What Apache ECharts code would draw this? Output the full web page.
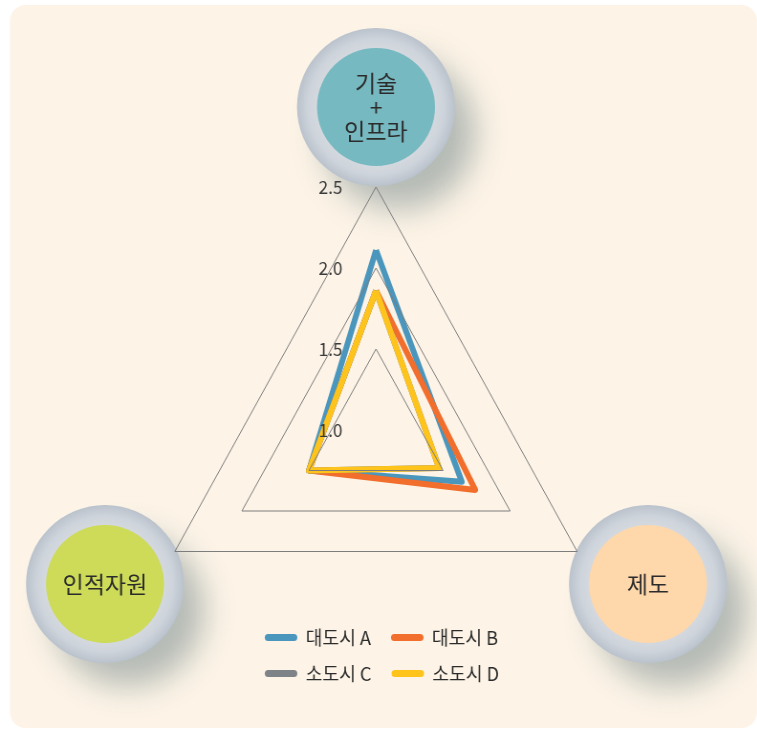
<!DOCTYPE html>
<html>
<head>
<meta charset="utf-8">
<script src="https://cdn.jsdelivr.net/npm/echarts@6/dist/echarts.min.js"></script>
<style>
html, body { margin: 0; padding: 0; background: #fff; overflow: hidden; }
/* the original figure is squeezed a little horizontally */
#chart { width: 792px; height: 729px; transform: scaleX(0.956); transform-origin: 0 0; }
</style>
</head>
<body>
<div id="chart"></div>
<script>
// 축 (위 -> 왼쪽 -> 오른쪽)
var indicatorNames = ['기술+인프라', '인적자원', '제도'];
var badgeTexts = ['기술\n+\n인프라', '인적자원', '제도'];
var seriesNames = ['대도시 A', '대도시 B', '소도시 C', '소도시 D'];
var valuesA = [2.11, 1.5, 1.64];
var valuesB = [1.86, 1.5, 1.74];
var valuesC = [1.86, 1.5, 1.47];
var valuesD = [1.86, 1.5, 1.47];
var axisMin = 1.0;
var axisMax = 2.5;
var axisInterval = 0.5;

var lineColors = ['#4a96bd', '#f26e2c', '#7e8387', '#fec41c'];
var badgeColors = ['#77b9c1', '#cddb59', '#fed7ab'];
var FONT = '"Noto Sans CJK KR", "Noto Sans", sans-serif';
var SX = 0.956;

var ringFill = {
    type: 'radial', x: 0.5, y: 0.5, r: 0.5,
    colorStops: [
        { offset: 0.72, color: '#d5dae0' },
        { offset: 0.86, color: '#ced4db' },
        { offset: 1, color: '#bac2cc' }
    ]
};

function makeBadge(cx, cy, fill, label) {
    return {
        type: 'group', x: cx / SX, y: cy, scaleX: 1 / SX, z: 100,
        children: [
            { type: 'circle', shape: { r: 76 }, style: { fill: '#cdd3da', shadowBlur: 32, shadowOffsetX: 24, shadowOffsetY: 26, shadowColor: 'rgba(90,115,120,0.45)' } },
            { type: 'circle', shape: { r: 79 }, style: { fill: ringFill } },
            { type: 'circle', shape: { r: 59 }, style: { fill: fill } },
            { type: 'text', style: { text: label, x: 0, y: 0, align: 'center', verticalAlign: 'middle', fontSize: 23, lineHeight: 24, fontFamily: FONT, fill: '#2b2b2b' } }
        ]
    };
}

var indicators = [];
for (var i = 0; i < indicatorNames.length; i++) {
    indicators.push({ name: indicatorNames[i], min: axisMin, max: axisMax });
}
indicators[0].axisLabel = {
    show: true, margin: 35, fontSize: 18, color: '#3a3a3a', fontFamily: FONT,
    formatter: function (v) { return v.toFixed(1); }
};

var allValues = [valuesA, valuesB, valuesC, valuesD];
var seriesData = [];
for (var k = 0; k < seriesNames.length; k++) {
    seriesData.push({
        name: seriesNames[k],
        value: allValues[k],
        lineStyle: { color: lineColors[k], width: 6 },
        itemStyle: { color: lineColors[k] }
    });
}

var legendBase = {
    left: 260 / SX, orient: 'horizontal', itemWidth: 35.5, itemHeight: 7, itemGap: 21,
    icon: 'path://M3.5,0 H30.5 A3.5,3.5 0 0 1 30.5,7 H3.5 A3.5,3.5 0 0 1 3.5,0 Z',
    textStyle: { fontSize: 19, color: '#2b2b2b', fontFamily: FONT, padding: [0, 0, 0, 3] }
};

var chart = echarts.init(document.getElementById('chart'));
chart.setOption({
    backgroundColor: '#fff',
    animation: false,
    graphic: [
        { type: 'rect', z: -10, shape: { x: 10 / SX, y: 5, width: 747 / SX, height: 723, r: 16 }, style: { fill: '#fdf4e7' } },
        makeBadge(376, 107, badgeColors[0], badgeTexts[0]),
        makeBadge(105, 584, badgeColors[1], badgeTexts[1]),
        makeBadge(648, 584, badgeColors[2], badgeTexts[2])
    ],
    legend: [
        Object.assign({}, legendBase, { top: 623, data: [seriesNames[0], seriesNames[1]] }),
        Object.assign({}, legendBase, { top: 659, data: [seriesNames[2], seriesNames[3]] })
    ],
    radar: {
        z: 3,
        center: [376 / SX, 430],
        radius: 243,
        startAngle: 90,
        splitNumber: 3,
        shape: 'polygon',
        indicator: indicators,
        axisName: { show: false },
        axisLine: { show: false },
        axisTick: { show: false },
        axisLabel: { show: false },
        splitLine: { lineStyle: { color: '#7d7d7d', width: 1 } },
        splitArea: { show: false }
    },
    series: [{
        type: 'radar',
        z: 2,
        symbol: 'none',
        data: seriesData
    }]
});
</script>
</body>
</html>
